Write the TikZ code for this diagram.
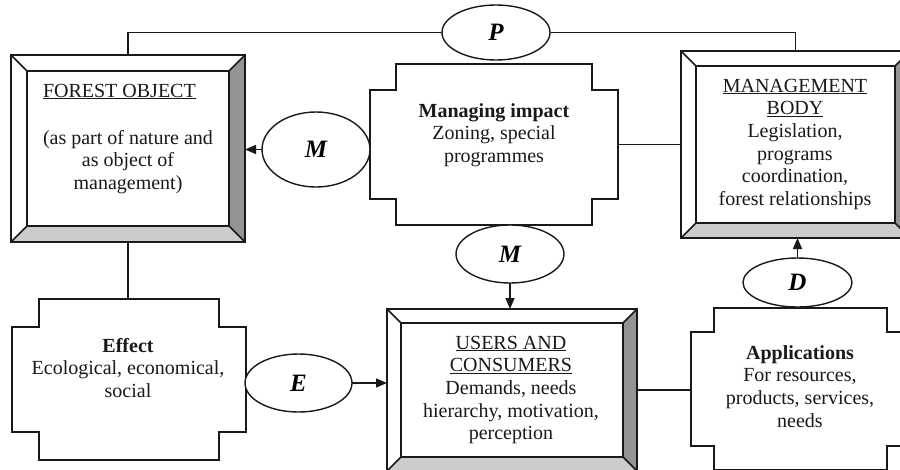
\documentclass[tikz,border=0pt]{standalone}
\usepackage{fontspec}
\setmainfont{Liberation Serif}
\usetikzlibrary{shapes.geometric,calc,arrows.meta}

% centred multi-line block whose baseline is that of its first line
\newcommand\LineStack[1]{\begin{tabular}[t]{@{}c@{}}#1\end{tabular}}

% framed box with a bevelled border: white top/left, grey right/bottom
\newcommand\BevelFrame[2]{%
  \fill[white] (#1.north west) rectangle (#1.south east);
  \fill[black!42] (#1.north east) -- (#1.south east)
     -- ($(#1.south east)+(-#2,-#2)$) -- ($(#1.north east)+(-#2,#2)$) -- cycle;
  \fill[black!20] (#1.south west) -- (#1.south east)
     -- ($(#1.south east)+(-#2,-#2)$) -- ($(#1.south west)+(#2,-#2)$) -- cycle;
  \draw[frame] (#1.north west) rectangle (#1.south east);
  \draw[frame] ($(#1.north west)+(#2,#2)$) rectangle ($(#1.south east)+(-#2,-#2)$);
  \draw[frame] (#1.north west) -- ++(#2,#2);
  \draw[frame] (#1.north east) -- ++(-#2,#2);
  \draw[frame] (#1.south west) -- ++(#2,-#2);
  \draw[frame] (#1.south east) -- ++(-#2,-#2);
}

% box with stepped (notched) corners
\newcommand\NotchFrame[3]{%
  \draw[frame, fill=white]
     ($(#1.north west)+(#2,0)$) -- ($(#1.north east)+(-#2,0)$)
  -- ($(#1.north east)+(-#2,#3)$) -- ($(#1.north east)+(0,#3)$)
  -- ($(#1.south east)+(0,-#3)$) -- ($(#1.south east)+(-#2,-#3)$)
  -- ($(#1.south east)+(-#2,0)$) -- ($(#1.south west)+(#2,0)$)
  -- ($(#1.south west)+(#2,-#3)$) -- ($(#1.south west)+(0,-#3)$)
  -- ($(#1.north west)+(0,#3)$) -- ($(#1.north west)+(#2,#3)$) -- cycle;
}

\begin{document}
\begin{tikzpicture}[x=1pt,y=-1pt,
  every node/.style={inner sep=0pt, outer sep=0pt},
  frame/.style={line width=1.5pt, draw=black!90},
  area/.style={rectangle, draw=none},
  link/.style={line width=1.5pt, draw=black!90},
  arr/.style={link, -{Triangle[length=11pt,width=9pt]}},
  oval/.style={ellipse, draw=black!90, line width=1.4pt, fill=white,
               font=\fontsize{25}{25}\selectfont\bfseries\itshape},
  txt/.style={anchor=base, font=\fontsize{20}{22.7}\selectfont, text=black!90}
]
\useasboundingbox (0,0) rectangle (900,469);
\clip (0,0) rectangle (900,469);

% box areas
\node[area, minimum width=234pt, minimum height=187pt] (forest)  at (128,148.5) {};
\node[area, minimum width=229pt, minimum height=187pt] (body)    at (795.5,144.5) {};
\node[area, minimum width=250pt, minimum height=162pt] (users)   at (512,390) {};
\node[area, minimum width=248pt, minimum height=161pt] (impact)  at (494,144.5) {};
\node[area, minimum width=234pt, minimum height=161pt] (effect)  at (129,379.5) {};
\node[area, minimum width=219pt, minimum height=162pt] (apps)    at (800.5,389) {};

% box outlines
\BevelFrame{forest}{16}
\BevelFrame{body}{15}
\BevelFrame{users}{14}
\NotchFrame{impact}{26}{26}
\NotchFrame{effect}{27}{28}
\NotchFrame{apps}{23}{24}

% box texts
\node[txt, anchor=base west] (forestHead) at (43,97) {\underline{FOREST OBJECT}};
\node[txt] (forestText) at (128,144) {\LineStack{(as part of nature and\\as object of\\management)}};
\node[txt] (impactText) at (494,117) {\LineStack{\textbf{Managing impact}\\Zoning, special\\programmes}};
\node[txt] (bodyText) at (795,92) {\LineStack{\underline{MANAGEMENT}\\\underline{BODY}\\Legislation,\\programs\\coordination,\\forest relationships}};
\node[txt] (usersText) at (511,349) {\LineStack{\underline{USERS AND}\\\underline{CONSUMERS}\\Demands, needs\\hierarchy, motivation,\\perception}};
\node[txt] (appsText) at (800,359) {\LineStack{\textbf{Applications}\\For resources,\\products, services,\\needs}};
\node[txt] (effectText) at (128,352) {\LineStack{\textbf{Effect}\\Ecological, economical,\\social}};

% plain connectors between boxes
\draw[link] (impact.east) -- (impact.east -| body.west);
\draw[link] (forest.south) -- (forest.south |- effect.north);
\draw[link] (users.east) -- (users.east -| apps.west);

% relation ovals
\node[oval, minimum width=108pt, minimum height=55pt] (P)  at (496,32.5) {P};
\node[oval, minimum width=108pt, minimum height=75pt] (Ml) at (316,149.5) {M};
\node[oval, minimum width=108pt, minimum height=58pt] (Mm) at (510,254) {M};
\node[oval, minimum width=109pt, minimum height=49pt] (D)  at (797.5,282.5) {D};
\node[oval, minimum width=107pt, minimum height=58pt] (E)  at (298.5,383) {E};

% top link through P
\draw[link] (forest.north) |- (P.west);
\draw[link] (P.east) -| (body.north);

% arrows
\draw[arr] (Ml.west) -- (Ml.west -| forest.east);
\draw[arr] (Mm.south) -- (Mm.south |- users.north);
\draw[arr] (D.north) -- (D.north |- body.south);
\draw[arr] (E.east) -- (E.east -| users.west);
\end{tikzpicture}
\end{document}
